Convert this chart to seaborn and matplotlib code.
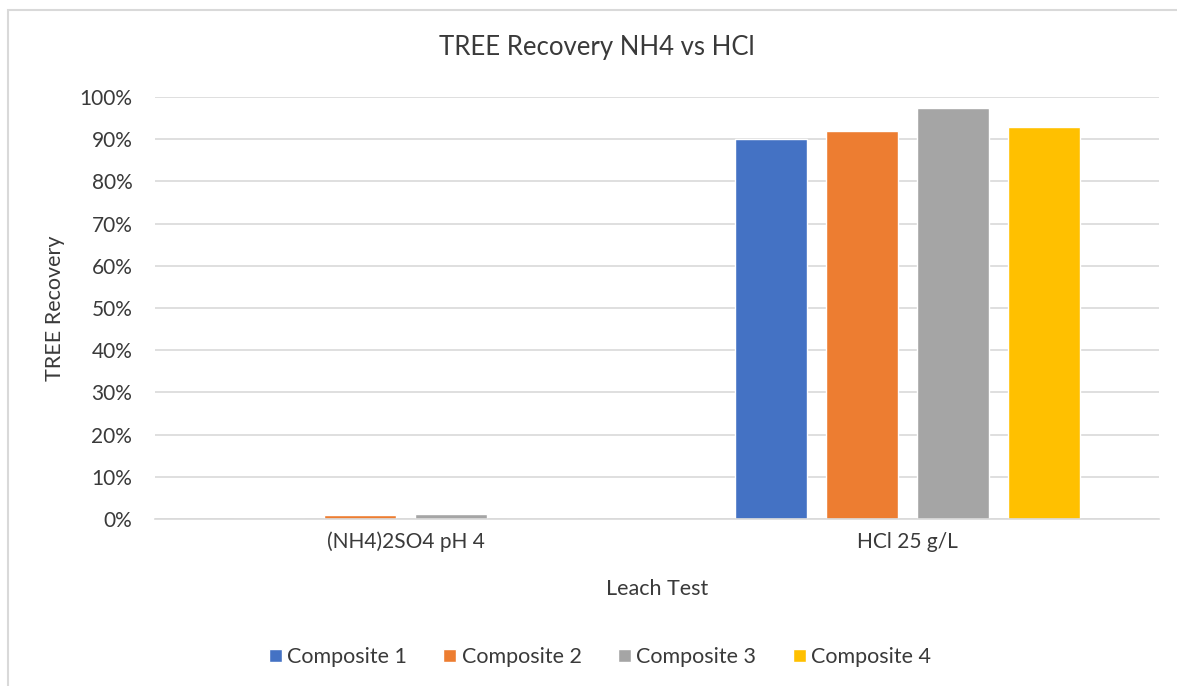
import matplotlib.pyplot as plt
import matplotlib.patches as mpatches
from matplotlib.ticker import PercentFormatter
import seaborn as sns
import pandas as pd

# values
tests = ["(NH4)2SO4 pH 4", "HCl 25 g/L"]
composites = ["Composite 1", "Composite 2", "Composite 3", "Composite 4"]
comp1 = [0.000, 0.900]
comp2 = [0.009, 0.920]
comp3 = [0.012, 0.973]
comp4 = [0.000, 0.929]
colors = ["#4472C4", "#ED7D31", "#A5A5A5", "#FFC000"]

df = pd.DataFrame({
    "Leach Test": tests * 4,
    "Composite": [c for c in composites for _ in tests],
    "TREE Recovery": comp1 + comp2 + comp3 + comp4,
})

sns.set_style("white")
plt.rcParams["font.family"] = ["Lato", "DejaVu Sans"]
grid_col = "#d9d9d9"
text_col = "#3a3a3a"

fig = plt.figure(figsize=(11.77, 6.86), dpi=100)
ax = fig.add_axes([154.5 / 1177, 1 - 519 / 686, 1004 / 1177, 422 / 686])

sns.barplot(data=df, x="Leach Test", y="TREE Recovery", hue="Composite",
            hue_order=composites, palette=colors, width=0.725, gap=0.21,
            saturation=1, ax=ax, legend=True)

ax.set_ylim(0, 1)
ax.set_yticks([i / 10 for i in range(11)])
ax.yaxis.set_major_formatter(PercentFormatter(1.0, decimals=0))
ax.grid(axis="y", color=grid_col, linewidth=1.2)
ax.set_axisbelow(True)
for s in ["top", "right", "left"]:
    ax.spines[s].set_visible(False)
ax.spines["bottom"].set_color(grid_col)
ax.spines["bottom"].set_linewidth(1.2)
ax.tick_params(axis="both", length=0, labelsize=15, labelcolor=text_col)
ax.tick_params(axis="y", pad=16)
ax.tick_params(axis="x", pad=9)

ax.set_xlabel("Leach Test", fontsize=15.5, color=text_col)
ax.set_ylabel("TREE Recovery", fontsize=15.5, color=text_col)
ax.xaxis.set_label_coords(0.5005, -0.143)
ax.yaxis.set_label_coords(-0.089, 0.5)

fig.text(597 / 1177, 1 - 48 / 686, "TREE Recovery NH4 vs HCl", fontsize=18.5,
         color=text_col, ha="center", va="center")

handles, labels = ax.get_legend_handles_labels()
ax.legend(handles, labels, loc="center", bbox_to_anchor=(600 / 1177, 1 - 657 / 686),
          bbox_transform=fig.transFigure, ncol=4, frameon=False, fontsize=15.5,
          handlelength=0.6, handleheight=0.6, handletextpad=0.25, columnspacing=1.7,
          labelcolor=text_col)

# chart area border like the spreadsheet frame
fig.patches.append(mpatches.Rectangle((8 / 1177, -0.1), 1.2, 1 - 10 / 686 + 0.1,
                                      transform=fig.transFigure, fill=False,
                                      edgecolor=grid_col, linewidth=1.5))

fig.savefig("out.png", dpi=100, facecolor="white")
